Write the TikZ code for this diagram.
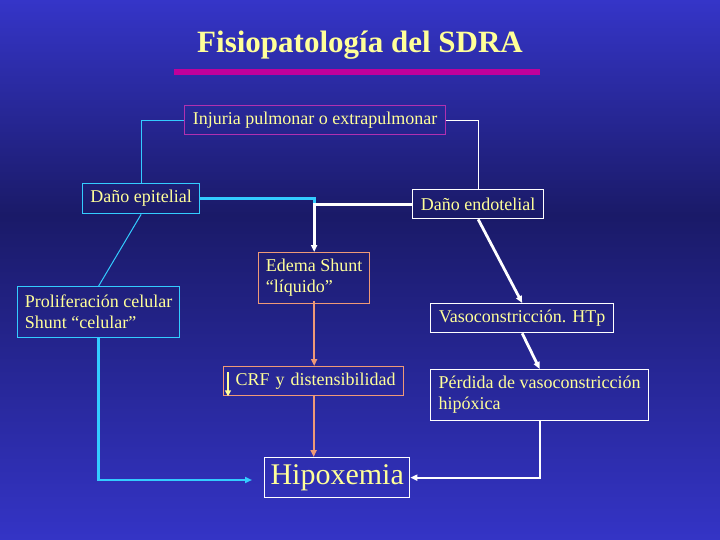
\documentclass[tikz,border=0pt]{standalone}
\usepackage{fontspec}
\setmainfont{Liberation Serif}
\usepackage{tikz}
\usetikzlibrary{positioning,arrows.meta,calc}
\usepackage{xcolor}
\definecolor{bgtop}{HTML}{3535C8}
\definecolor{bgmid}{HTML}{1A1A68}
\definecolor{bgbot}{HTML}{3434C6}
\definecolor{pale}{HTML}{FFFF99}
\definecolor{skyline}{HTML}{33CCFF}
\definecolor{salmon}{HTML}{EE9977}
\definecolor{magbar}{HTML}{C0009C}
\definecolor{purp}{HTML}{B030B0}

\begin{document}
\begin{tikzpicture}[x=1pt,y=-1pt,
  box/.style={draw,line width=1.3pt,text=pale,font=\fontsize{18}{21}\selectfont,
    inner sep=0pt,align=left,anchor=north west},
  tip/.style={-{Triangle[length=7pt,width=6pt]}},
  thinlink/.style={line width=1pt},
  fatlink/.style={line width=2.8pt}]
% Background
\useasboundingbox (0,0) rectangle (720,540);
\shade[top color=bgtop,bottom color=bgmid] (0,0) rectangle (720,215);
\shade[top color=bgmid,bottom color=bgbot] (0,215) rectangle (720,540);
% Title
\node[anchor=base,text=pale,font=\fontsize{31}{36}\selectfont\bfseries] (ttl) at (360,53)
  {Fisiopatología del SDRA};
\fill[magbar] (174,69) rectangle (540,75);
% Boxes
\node[box,draw=purp,minimum width=261pt,minimum height=29pt] (inj) at (184,105)
  {Injuria pulmonar o extrapulmonar};
\node[box,draw=skyline,minimum width=117pt,minimum height=30pt] (epi) at (82,183)
  {Daño epitelial};
\node[box,draw=skyline,minimum width=162pt,minimum height=51pt] (prolif) at (17,286)
  {Proliferación celular\\Shunt “celular”};
\node[box,draw=white,minimum width=131pt,minimum height=29pt] (endo) at (412,189)
  {Daño endotelial};
\node[box,draw=salmon,minimum width=111pt,minimum height=51pt] (edema) at (258,252)
  {Edema Shunt\\“líquido”};
\node[box,draw=salmon,minimum width=180pt,minimum height=29pt,text width=164pt,align=right] (crf) at (223,366)
  {CRF y distensibilidad};
\node[box,draw=white,minimum width=183pt,minimum height=29pt] (vaso) at (430,303)
  {Vasoconstricción. HTp};
\node[box,draw=white,minimum width=218pt,minimum height=51pt] (perd) at (430,369)
  {Pérdida de vasoconstricción\\hipóxica};
\node[box,draw=white,minimum width=145pt,minimum height=40pt,align=center,
  font=\fontsize{30}{34}\selectfont] (hipox) at (264,457) {Hipoxemia};
\draw[pale,line width=1.6pt,-{Triangle[length=6pt,width=6pt]}]
  ([shift={(5,6)}]crf.north west) -- ([shift={(5,0)}]crf.south west);
% Links
\coordinate (jn) at (edema.north |- endo.west);
\coordinate (hipin) at (252,480);
\draw[thinlink,skyline] (inj.west) -| (epi.north);
\draw[thinlink,white] (inj.east) -| (endo.north);
\draw[thinlink,skyline] (epi.south) -- (prolif.north);
\draw[fatlink,skyline] (epi.east) -| (jn);
\draw[fatlink,white,tip] (endo.west) -- (jn) -- (edema.north);
\draw[fatlink,white,tip] (endo.south) -- (vaso.north);
\draw[fatlink,white,tip] (vaso.south) -- (perd.north);
\draw[line width=2pt,white,tip] (perd.south) |- (hipox.east);
\draw[line width=2pt,salmon,tip] ([yshift=3]edema.south) -- (edema.south |- crf.north);
\draw[line width=2pt,salmon,tip] (crf.south) -- (crf.south |- hipox.north);
\draw[fatlink,skyline,tip] (prolif.south) |- (hipin);
\end{tikzpicture}
\end{document}
